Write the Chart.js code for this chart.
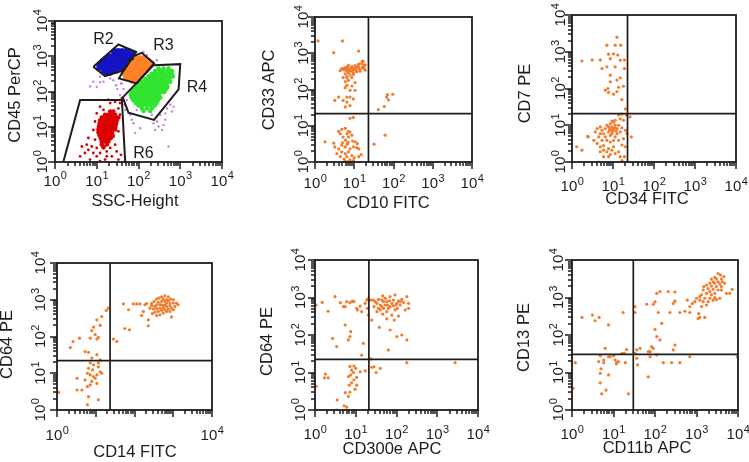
<!DOCTYPE html>
<html>
<head>
<meta charset="utf-8">
<script src="https://cdn.jsdelivr.net/npm/chart.js@4.4.1/dist/chart.umd.min.js"></script>
<style>
html, body { margin: 0; padding: 0; background: #fff; }
#fig { position: relative; width: 749px; height: 462px; overflow: hidden; }
#fig canvas { position: absolute; }
</style>
</head>
<body>
<div id="fig">
  <canvas id="p1" width="250" height="231" style="left:0;top:0"></canvas>
  <canvas id="p2" width="250" height="231" style="left:250px;top:0"></canvas>
  <canvas id="p3" width="249" height="231" style="left:500px;top:0"></canvas>
  <canvas id="p4" width="250" height="231" style="left:0;top:231px"></canvas>
  <canvas id="p5" width="250" height="231" style="left:250px;top:231px"></canvas>
  <canvas id="p6" width="249" height="231" style="left:500px;top:231px"></canvas>
</div>
<script>
//// data, [x, y] pairs

// panel 1 : SSC-Height vs CD45 PerCP, gated populations
var r2Blue = [
  [27.5,1480],[33,1480],[40,1480],[48,1480],[57.5,1480],
  [25,1250],[30,1250],[36,1250],[44,1250],[52.5,1250],[63,1250],[76,1250],
  [19,1050],[23,1050],[27.5,1050],[33,1050],[40,1050],[48,1050],[57.5,1050],[69,1050],
  [15.8,883],[19,883],[23,883],[27.5,883],[33,883],[40,883],[48,883],[57.5,883],[69,883],
  [13.2,741],[15.8,741],[19,741],[23,741],[27.5,741],[33,741],[40,741],[48,741],[57.5,741],
  [11.7,624],[13.9,624],[16.7,624],[20,624],[24,624],[29,624],[35,624],[42,624],[50,624],
  [11,525],[13.2,525],[15.8,525],[19,525],[23,525],[27.5,525],[33,525],[40,525],[48,525],
  [11,443],[13.2,443],[15.8,443],[19,443],[23,443],[27.5,443],[33,443],[40,443],
  [14.5,374],[17.4,374],[21,374],[25,374],[30,374],
  [16.7,324],[21,324]
];
var r3Orange = [
  [76,922],[91,922],[110,922],[132,922],
  [69,776],[83,776],[100,776],[120,776],[145,776],[174,776],
  [57.5,652],[69,652],[83,652],[100,652],[120,652],[145,652],[174,652],[209,652],
  [52.5,548],[63,548],[76,548],[91,548],[110,548],[132,548],[158,548],[190,548],
  [48,461],[57.5,461],[69,461],[83,461],[100,461],[120,461],[145,461],[174,461],
  [44,387],[52.5,387],[63,387],[76,387],[91,387],[110,387],[132,387],[158,387],
  [42,324],[50,324],[61,324],[73,324],[87,324],[105,324],[126,324],
  [48,274],[57.5,274],[69,274],[83,274],[100,274],[120,274],
  [48,230],[57.5,230],[69,230],[83,230],[100,230],
  [69,194],[83,194]
];
var r4Green = [
  [302,451],[398,451],[525,451],
  [251,379],[323,379],[398,379],[505,379],[631,379],
  [209,319],[263,319],[331,319],[406,319],[515,319],[631,319],
  [174,268],[217,268],[270,268],[339,268],[425,268],[525,268],[660,268],
  [145,225],[180,225],[227,225],[282,225],[355,225],[437,225],[550,225],
  [120,190],[151,190],[190,190],[234,190],[295,190],[363,190],[456,190],[575,190],
  [100,159],[125,159],[156,159],[195,159],[245,159],[302,159],[380,159],[475,159],
  [83,134],[104,134],[129,134],[162,134],[203,134],[251,134],[316,134],[398,134],[495,134],
  [76,113],[95,113],[118,113],[148,113],[186,113],[229,113],[288,113],[363,113],[445,113],
  [69,95],[86,95],[108,95],[135,95],[170,95],[209,95],[263,95],[331,95],[406,95],
  [65.6,80],[81,80],[102,80],[126,80],[158,80],[198,80],[250,80],[309,80],
  [69,67],[86,67],[108,67],[135,67],[170,67],[209,67],[263,67],[331,67],
  [76,56],[95,56],[118,56],[148,56],[186,56],[229,56],[288,56],
  [87,47],[110,47],[138,47],[174,47],[214,47],[269,47],
  [100,40],[125,40],[156,40],[195,40],[245,40],
  [120,33.5],[158,33.5],[209,33.5],
  [132,28],[190,28]
];
var r6Red = [
  [21,27],[25,27],
  [15.8,22],[19,22],[23,22],[27.5,22],
  [13.2,18.2],[15.8,18.2],[19,18.2],[23,18.2],[27.5,18.2],[33,18.2],
  [12,15],[14.5,15],[17.4,15],[21,15],[25,15],[30,15],
  [11.7,12.4],[13.9,12.4],[16.7,12.4],[20,12.4],[24,12.4],[29,12.4],
  [11.3,10.2],[13.5,10.2],[16.2,10.2],[19.5,10.2],[23.5,10.2],[28,10.2],
  [11,8.4],[13.2,8.4],[15.8,8.4],[19,8.4],[23,8.4],[27.5,8.4],
  [11,6.9],[13.2,6.9],[15.8,6.9],[19,6.9],[23,6.9],
  [11.7,5.7],[13.9,5.7],[16.7,5.7],[20,5.7],[24,5.7],
  [12.5,4.7],[15,4.7],[18,4.7],[21.5,4.7],
  [13.2,3.8],[15.8,3.8],[19,3.8],
  [13.2,3.15],[17.4,3.15],[14.5,2.6]
];
var r6RedSparse = [
  [12,37],[21,47],[27.5,51],[33,33],[36,22],[30,14],[33,7.4],[25,5.2],[9.1,4.3],[7.6,2.75],
  [6.3,2.2],[5.2,1.8],[4,1.45],[6.9,1.17],[10,1.45],[12,1.8],[17.4,2],[21,2.5],[27.5,3.1],
  [30,2],[23,1.45],[15.8,1.17],[8.3,1.8],[4.4,2.75],[5.75,3.1],[10,2.5],[14.5,2.75],
  [17.4,1.45],[12,1.05],[33,1.17],[38,1.6],[8.3,8.1],[9.1,14.1],[10,24],[14.5,30],
  [6.3,4.8],[19,57.5],[40,65],[36,47]
];
var otherPurple = [
  [6.9,138],[10,134],[12,185],[25,209],[29,151],[31,117],[40,170],[44,117],[36,79],
  [57.5,209],[52.5,57.5],[46,42],[48,30],[63,22],[69,15.8],[83,6.6],[110,9.1],[275,14.1],
  [302,10.2],[363,8.1],[398,11.2],[437,15.8],[525,2.75],[631,27],[575,42],[437,24],
  [331,22],[275,19.5],[229,12.6],[132,1320],[275,776],[158,1070],[12,263],[21,234],
  [14.5,190],[8.3,190],[69,295],[38,170],[479,33],[692,37],[76,12.6],[91,30],[209,22],[251,8.1]
];
var gateR2 = [[8.3,501],[33,2150],[88,1330],[45,405],[15.8,274],[8.3,501]];
var gateR3 = [[69,962],[120,1250],[236,624],[91,170],[34,235],[69,962]];
var gateR4 = [[229,560],[1000,597],[912,115],[236,15.7],[57.5,25],[42,68],[229,560]];
var gateR6 = [[1.58,1],[4,57.5],[40,57.5],[48,1]];
var gateNames = ['R2','R3','R4','R6'];
var gateNameAt = [[14.5,2960],[398,2050],[2510,131],[132,1.7]];

// panel 2 : CD10 FITC vs CD33 APC
var cd10_cd33 = [
  [1.2,2190],[5,2190],[3,1040],[12.9,1150],[16,600],[18,465],[19,340],
  [4.8,375],[5.2,375],[5.9,400],[6.5,415],[7.8,360],[8.7,320],[9.5,350],[10.5,390],[11.5,430],
  [12.9,420],[14,350],[17,420],[6.5,320],[7.1,290],[9.5,290],[5.9,270],[11.5,310],[14,320],
  [7.1,465],[8.7,430],[10.5,460],[12.9,500],[15.5,520],[17,600],[19,480],[4.4,330],[7.8,250],
  [6.5,230],[9.5,260],[6,380],[7,400],[8,380],[9,400],[10,370],[6.8,340],[8.2,340],[7.5,310],
  [5.5,350],[13,380],[11,350],[16,400],[18,380],
  [5.2,213],[6.5,210],[7.1,178],[5.9,165],[8.7,213],[10.5,155],[6.5,130],[8.7,125],[5.9,112],
  [7.8,95],[10.5,95],[4,62],[3.2,50],[6.5,62],[7.8,62],[9.5,55],[5.2,50],[6.5,45],[7.8,36],[5.9,33],
  [1.8,3.6],[3,3.3],[4,7],[4.8,8],[5.9,8.5],[7.1,7],[4.4,6],[6.5,6],[7.8,6.7],[5.2,4.9],[7.1,4.9],
  [8.7,5.5],[7.8,16],[9.5,17],[3.2,2.6],[4,2.3],[4.8,2.9],[5.9,2.6],[6.6,3.1],[7.8,2.3],[9.5,2.6],
  [11.5,2.5],[13,2.3],[4.8,1.9],[5.9,1.7],[7.1,1.9],[8.7,1.5],[6.5,1.4],[7.8,1.15],[9.5,1.1],
  [5.9,1.05],[7.1,1.02],[4.4,1.4],[10.5,3.6],[13,1.4],[15,1.6],[3.6,1.7],[5.5,1.2],[6.2,1.0],
  [8.5,1.0],[10,1.3],[6,4.0],[7,3.5],[5,3.4],[9,3.8],[12,3.2],
  [32,3.1],[41,28],[58,34],[67,62],[70,72],[74,52],[96,74],[61,5.5]
];
var quad2 = [23, 21.5];

// panel 3 : CD34 FITC vs CD7 PE
var cd34_cd7 = [
  [12.5,2500],[7.1,1510],[11.3,1510],[15.5,1510],[10.3,880],[13,810],[7.8,860],[15,590],[8.6,650],
  [1.75,560],[3.1,600],[4.9,600],[5.4,350],[7.1,390],[11.3,390],[19,600],[19,350],[8.6,230],
  [12.5,170],[15,195],[8.6,152],[6.5,90],[7.8,78],[10.3,70],[13.7,108],[18,115],[16.5,50],
  [7.5,100],[12.5,82],
  [20,28],[21,19],[15,15],[11.3,13.7],[7.1,10],[9.4,9],[12.5,8.1],[16.5,8.5],[20,7.3],[10.3,7.3],
  [7.8,6.6],[5.9,5.9],[4.9,9],[4.1,8.1],[3.7,6.6],[2.5,4.8],[3.4,3.9],[4.5,4.8],[5.4,3.9],[7.1,3.9],
  [8.6,3.5],[6.5,4.8],[11.3,4.8],[13.7,3.9],[18,4.3],[21.8,5.9],[28,4.8],[26,17],[4.9,2.6],[5.9,2.1],
  [7.8,2.3],[10.3,2.6],[13.7,1.9],[11.3,1.7],[8.6,1.6],[7.1,1.9],[4.9,1.9],[5.9,1.4],[4.5,1.0],
  [19,1.4],[1.3,2.6],[1.75,2.1],[2.4,5],[9.4,5.9],[10.3,12],[8.6,11],[13.7,10],[15,6.6],[12.5,5.9],
  [8.6,5.3],[10.3,3.9],[6.5,8.1],[5.4,7.3],[7.8,9],[11.3,10],[9.4,13],[18,13.7],[16.5,20],[13.7,19],
  [4.9,5.9],[4.1,3.2],[5.9,2.8],[16.5,2.9],[20,2.6],[9.4,2.1],[7.8,1.4],[15,1.4],[16.5,1.1],
  [9,8],[10,7.8],[11,8.5],[9.6,6.8],[8.2,7.6],[12,7]
];
var quad3 = [22.6, 20.8];

// panel 4 : CD14 FITC vs CD64 PE
var cd14_cd64 = [
  [277,790],[320,900],[372,1040],[430,1120],[500,1200],[609,1270],[742,1200],[850,1040],[1000,1000],
  [1210,810],[1330,730],[1100,660],[905,590],[742,560],[609,535],[500,515],[410,480],[337,460],
  [290,420],[372,370],[453,390],[552,435],[672,480],[820,480],[1000,535],[905,340],[552,690],
  [453,730],[372,730],[672,810],[820,810],[1000,810],[609,900],[742,950],[500,900],[410,850],
  [337,660],[305,560],[250,590],[277,690],[552,590],[672,660],[820,690],[453,590],[372,570],
  [609,730],[500,730],[672,1000],[552,1040],
  [205,790],[187,730],[138,770],[114,770],[93,770],[70,535],[52,770],[169,480],[152,370],[227,285],
  [227,195],[56,165],[74,152],[28.6,85],[35,73],[21,590],[18.6,510],[14.3,350],[10.7,285],[13,200],
  [8.8,180],[7.9,145],[9.7,112],[10.7,85],[11.7,95],[7.2,90],[3.8,90],[2.6,73],[2.2,50],[5.3,39],
  [6.5,37],[10.7,32],[7.9,26],[7.2,19],[8.8,17],[11.7,15],[6.5,13.7],[8.3,12.3],[6.1,10],[7.2,9],
  [8.8,8.1],[10.7,9],[13,11],[14.3,10],[9.7,7.3],[3.3,7.3],[5.3,6.6],[7.9,6],[10.7,5.3],[6.1,4.3],
  [7.2,4.8],[3.3,3.5],[4.4,3.5],[6.5,2.3],[11.7,1.9],[6.1,1.4],[7.2,1.0],[1.1,3.0],[11.7,19],[13,23]
];
var quad4 = [23.4, 22];

// panel 5 : CD300e APC vs CD64 PE
var cd300e_cd64 = [
  [1.06,630],[1.5,740],[2.1,430],[3.1,1050],[4.2,730],[5,570],[5.5,570],[6,775],[7.2,730],[8.2,800],
  [9,775],[10.5,515],[11,465],[12.8,590],[14,420],[17,700],[18.6,855],[19.4,515],[20.4,950],
  [20.4,340],[23.3,855],
  [27,855],[30,775],[33,700],[36,890],[40,630],[43.6,855],[46,1100],[48,775],[52.6,950],[57.7,775],
  [60,630],[67,820],[69.6,1050],[77,700],[84,855],[92,1170],[98,630],[105,515],[112,820],[123,630],
  [135,890],[148,740],[163,465],[179,1050],[198,700],[198,515],[28,570],[33,420],[40,465],[48,515],
  [57.7,420],[69.6,570],[36,515],[43.6,570],[52.6,630],[63,515],[84,600],[102,700],[123,775],
  [92,465],[77,340],[57.7,270],[46,360],[112,320],[88,250],[38,160],[69.6,136],[135,100],[102,91],
  [179,74],[63,40],[24.7,250],
  [5.5,185],[7.5,123],[7.2,91],[6.6,74],[2.7,81],[3.4,49],[15.4,60],[14,29],
  [1.8,9.1],[1.7,7.2],[2.1,7.2],[1.06,4.3],[7.2,14.5],[7.9,11.6],[9,14.9],[10,12.9],[8.8,10],
  [7.5,8.6],[6.6,7.8],[12.8,10.4],[17,11],[10.5,7.4],[9,6.3],[7.9,5.3],[6.9,4.6],[10.5,4.6],
  [9.6,3.6],[5.5,2.9],[7.2,3.0],[6.6,2.3],[3.5,1.85],[3.5,1.0],[5.2,1.3],[6,1.2],
  [24.7,13.8],[28,14.2],[31.6,10],[40,12.9],[179,18.3],[2750,18.3],[23.3,23]
];
var quad5 = [21, 22.4];

// panel 6 : CD11b APC vs CD13 PE
var cd11b_cd13 = [
  [3310,4370],[3800,3980],[2750,3450],[2290,3100],[3020,3100],[3980,3100],[4570,3630],[2510,2630],
  [3310,2630],[4200,2630],[2090,2400],[2750,2400],[3630,2300],[4790,2400],[1740,2140],[2290,2020],
  [3020,1950],[3980,1950],[1905,1740],[2510,1650],[3310,1585],[1445,1585],[2090,1445],[2750,1290],
  [1740,1290],[1318,1175],[2290,1175],[1585,955],[2090,955],[2750,1000],[1200,850],[1445,776],
  [1905,776],[2510,850],[3020,880],[3630,955],[5250,1290],[7200,1650],[6310,1290],[3980,1585],
  [1500,1950],[1200,1050],[1000,955],[912,776],[1318,575],[1740,630],[1585,295],[1096,275],
  [692,575],[600,850],[790,692],[525,430],[1130,370],[1200,295],
  [110,1290],[132,1445],[209,1445],[302,1400],[100,760],[63,660],[91,660],[120,398],[275,692],
  [302,800],[33,575],[33,398],[229,398],[692,398],[398,398],[145,205],[100,141],[110,91],[132,74],
  [302,54],[83,49],[69,36],[91,44],[76,36],[275,40],[43.7,44],[36.3,40],[33,32],[36.3,24],[76,26.3],
  [110,29.5],[158,18.3],[251,18.3],[398,18.3],[690,26.3],[9600,26.3],[69,7.6],[38,16],
  [1.74,295],[3.1,340],[3.6,240],[4.5,295],[7.6,186],[17,398],[6.3,44],[4.8,28],[5.8,21.4],
  [5.8,18.3],[7.6,26.3],[10,28],[11,21.4],[12,18.3],[11.7,17],[13.2,19.5],[15.8,32],[18.1,33],
  [20.6,41],[19.3,18.3],[8.3,26.3],[1.2,18.3],[1.06,3.8],[4.8,9.5],[5,12.6],[7.6,8.6],[4.8,5.3],
  [6.6,3.4],[5.2,2.7],[23,2.7],[4.4,19.5]
];
var quad6 = [30, 30.5];

// axis texts
var xTitles = ['SSC-Height','CD10 FITC','CD34 FITC','CD14 FITC','CD300e APC','CD11b APC'];
var yTitles = ['CD45 PerCP','CD33 APC','CD7 PE','CD64 PE','CD64 PE','CD13 PE'];
var decadeLabels = [0,1,2,3,4];
var cd14Labels = [0,4];
///////////////////////////////

var INK = '#1c1c1c';
var DOT = '#f37b2d';
var FONT = '"Liberation Sans", Arial, Helvetica, sans-serif';

// ruler marks 1..9 per decade on the log axes
var ruler = [];
for (var d = 0; d < 4; d++) {
  for (var k = 1; k < 10; k++) ruler.push({v: k * Math.pow(10, d), major: k === 1});
}
ruler.push({v: 10000, major: true});

function pts(list) {
  return list.map(function (p) { return {x: p[0], y: p[1]}; });
}

function dots(list, color, r) {
  return {data: pts(list), backgroundColor: color, borderWidth: 0, pointRadius: r};
}

function outline(list, w) {
  return {data: pts(list), showLine: true, borderColor: INK, borderWidth: w,
          pointRadius: 0, fill: false, tension: 0};
}

function quadLines(q) {
  return [outline([[q[0],1],[q[0],10000]], 1.7), outline([[1,q[1]],[10000,q[1]]], 1.7)];
}

// "10" with a raised exponent, centred on cx
function powLabel(ctx, e, cx, base) {
  ctx.font = '15px ' + FONT;
  var w1 = ctx.measureText('10').width;
  ctx.font = '11px ' + FONT;
  var w2 = ctx.measureText(String(e)).width;
  var left = cx - (w1 + w2) / 2;
  ctx.textAlign = 'left';
  ctx.textBaseline = 'alphabetic';
  ctx.font = '15px ' + FONT;
  ctx.fillText('10', left, base);
  ctx.font = '11px ' + FONT;
  ctx.fillText(String(e), left + w1 + 0.5, base - 6.5);
}

var flowFrame = {
  id: 'flowFrame',
  afterDatasetsDraw: function (chart, args, o) {
    var ctx = chart.ctx, a = chart.chartArea, x = chart.scales.x, y = chart.scales.y;
    ctx.save();
    ctx.strokeStyle = INK;
    ctx.lineWidth = 1.8;
    ctx.strokeRect(a.left, a.top, a.right - a.left, a.bottom - a.top);

    ctx.lineWidth = 1.5;
    ctx.beginPath();
    ruler.forEach(function (t) {
      var len = t.major ? 7 : 4;
      var px = Math.round(x.getPixelForValue(t.v));
      ctx.moveTo(px, a.bottom); ctx.lineTo(px, a.bottom + len);
      var py = Math.round(y.getPixelForValue(t.v));
      ctx.moveTo(a.left, py); ctx.lineTo(a.left - len, py);
    });
    ctx.stroke();

    ctx.fillStyle = INK;
    o.xExp.forEach(function (e) {
      powLabel(ctx, e, x.getPixelForValue(Math.pow(10, e)), a.bottom + o.xLab);
    });
    decadeLabels.forEach(function (e) {
      ctx.save();
      ctx.translate(a.left - o.yLab, y.getPixelForValue(Math.pow(10, e)));
      ctx.rotate(-Math.PI / 2);
      powLabel(ctx, e, 0, 0);
      ctx.restore();
    });

    // axis titles
    ctx.font = '16.5px ' + FONT;
    ctx.textAlign = 'center';
    ctx.textBaseline = 'alphabetic';
    ctx.fillText(o.xTitle, (a.left + a.right) / 2 + o.xTitleDx, a.bottom + o.xTitleDy);
    ctx.save();
    ctx.translate(a.left + o.yTitleDx, (a.top + a.bottom) / 2 + o.yTitleDy);
    ctx.rotate(-Math.PI / 2);
    ctx.textBaseline = 'middle';
    ctx.fillText(o.yTitle, 0, 0);
    ctx.restore();

    // gate names
    if (o.gates) {
      ctx.font = '16px ' + FONT;
      ctx.textBaseline = 'middle';
      o.gates.names.forEach(function (n, i) {
        var p = o.gates.at[i];
        ctx.fillText(n, x.getPixelForValue(p[0]), y.getPixelForValue(p[1]));
      });
    }
    ctx.restore();
  }
};

function makePlot(id, datasets, pad, frame) {
  return new Chart(document.getElementById(id), {
    type: 'scatter',
    data: {datasets: datasets},
    options: {
      responsive: false,
      animation: false,
      events: [],
      layout: {padding: pad},
      scales: {
        x: {type: 'logarithmic', min: 1, max: 10000, display: false},
        y: {type: 'logarithmic', min: 1, max: 10000, display: false}
      },
      plugins: {legend: {display: false}, tooltip: {enabled: false}, flowFrame: frame}
    },
    plugins: [flowFrame]
  });
}

makePlot('p1', [
    outline(gateR2, 2), outline(gateR3, 2), outline(gateR4, 2), outline(gateR6, 2),
    dots(r2Blue, '#1414c4', 2.3), dots(r3Orange, '#ff8126', 2.3), dots(r4Green, '#2fe42f', 2.3),
    dots(r6Red, '#dc0000', 2.3), dots(r6RedSparse, '#d20000', 1.4), dots(otherPurple, '#c97fe0', 1.2)
  ], {left: 55, right: 28, top: 21, bottom: 69},
  {xExp: decadeLabels, xLab: 23.5, yLab: 8, xTitle: xTitles[0], yTitle: yTitles[0],
   xTitleDx: -3.5, xTitleDy: 44, yTitleDx: -39.5, yTitleDy: 3.5,
   gates: {names: gateNames, at: gateNameAt}});

makePlot('p2', quadLines(quad2).concat([dots(cd10_cd33, DOT, 1.6)]),
  {left: 65, right: 28, top: 17, bottom: 69},
  {xExp: decadeLabels, xLab: 26, yLab: 7, xTitle: xTitles[1], yTitle: yTitles[1],
   xTitleDx: -5.5, xTitleDy: 46, yTitleDx: -46, yTitleDy: 0.5});

makePlot('p3', quadLines(quad3).concat([dots(cd34_cd7, DOT, 1.6)]),
  {left: 72, right: 13, top: 15, bottom: 69},
  {xExp: decadeLabels, xLab: 29, yLab: 7, xTitle: xTitles[2], yTitle: yTitles[2],
   xTitleDx: -7, xTitleDy: 42, yTitleDx: -47, yTitleDy: 5});

makePlot('p4', quadLines(quad4).concat([dots(cd14_cd64, DOT, 1.6)]),
  {left: 57, right: 38, top: 32, bottom: 52},
  {xExp: cd14Labels, xLab: 30, yLab: 12, xTitle: xTitles[3], yTitle: yTitles[3],
   xTitleDx: 0.5, xTitleDy: 47, yTitleDx: -49.5, yTitleDy: 8});

makePlot('p5', quadLines(quad5).concat([dots(cd300e_cd64, DOT, 1.6)]),
  {left: 65, right: 22, top: 29, bottom: 52},
  {xExp: decadeLabels, xLab: 29, yLab: 10, xTitle: xTitles[4], yTitle: yTitles[4],
   xTitleDx: -4.5, xTitleDy: 44, yTitleDx: -47.5, yTitleDy: 6.5});

makePlot('p6', quadLines(quad6).concat([dots(cd11b_cd13, DOT, 1.6)]),
  {left: 72, right: 11, top: 29, bottom: 52},
  {xExp: decadeLabels, xLab: 29, yLab: 9, xTitle: xTitles[5], yTitle: yTitles[5],
   xTitleDx: -8, xTitleDy: 43, yTitleDx: -48, yTitleDy: 2.5});
</script>
</body>
</html>
